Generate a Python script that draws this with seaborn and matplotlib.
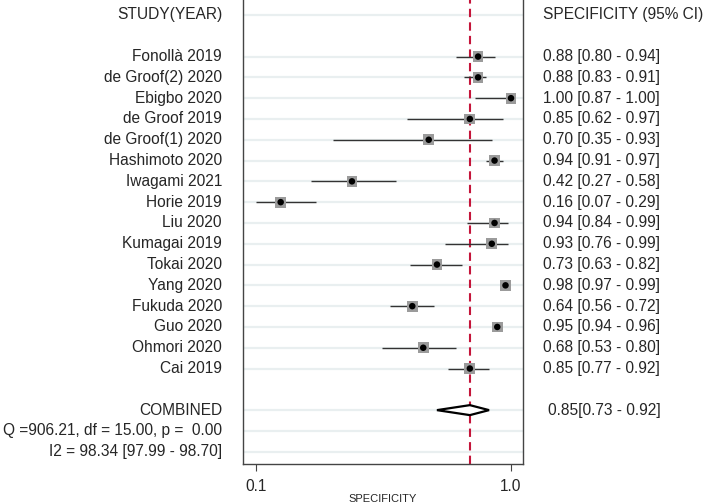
import matplotlib
matplotlib.use("Agg")
import matplotlib.pyplot as plt
import matplotlib.transforms as mtransforms
import seaborn as sns
import pandas as pd

studies = ["Fonollà 2019", "de Groof(2) 2020", "Ebigbo 2020", "de Groof 2019",
           "de Groof(1) 2020", "Hashimoto 2020", "Iwagami 2021", "Horie 2019",
           "Liu 2020", "Kumagai 2019", "Tokai 2020", "Yang 2020",
           "Fukuda 2020", "Guo 2020", "Ohmori 2020", "Cai 2019"]
spec = [0.88, 0.88, 1.00, 0.85, 0.70, 0.94, 0.42, 0.16,
        0.94, 0.93, 0.73, 0.98, 0.64, 0.95, 0.68, 0.85]
lo = [0.80, 0.83, 0.87, 0.62, 0.35, 0.91, 0.27, 0.07,
      0.84, 0.76, 0.63, 0.97, 0.56, 0.94, 0.53, 0.77]
hi = [0.94, 0.91, 1.00, 0.97, 0.93, 0.97, 0.58, 0.29,
      0.99, 0.99, 0.82, 0.99, 0.72, 0.96, 0.80, 0.92]
comb_est, comb_lo, comb_hi = 0.85, 0.73, 0.92
q_stat, q_df, q_p = 906.21, 15.00, 0.00
i2, i2_lo, i2_hi = 98.34, 97.99, 98.70

rows = list(range(2, 2 + len(studies)))
comb_row = rows[-1] + 2
df = pd.DataFrame({"study": studies, "spec": spec, "lo": lo, "hi": hi, "row": rows})

sns.set_style("white")
plt.rcParams["font.family"] = ["Liberation Sans", "DejaVu Sans"]
fs = 11.2

fig = plt.figure(figsize=(7.09, 5.04), dpi=100)
ax = fig.add_axes([243 / 709, 1 - 464 / 504, 280 / 709, 464 / 504])

# row grid
grid_rows = [0] + rows + [comb_row, comb_row + 1, comb_row + 2]
for r in grid_rows:
    ax.axhline(r, color="#e9eff0", lw=1.6, zorder=0)

ax.axvline(comb_est, color="#c4153a", lw=1.5, ls=(0, (4, 2.5)), zorder=1)
ax.hlines(df["row"], df["lo"], df["hi"], color="#333333", lw=1.0, zorder=2)
sns.scatterplot(data=df, x="spec", y="row", marker="s", s=60, color="#9b9b9b",
                edgecolor="none", zorder=3, ax=ax)
sns.scatterplot(data=df, x="spec", y="row", marker="o", s=22, color="black",
                edgecolor="none", zorder=4, ax=ax)

# pooled diamond
h = 0.24
ax.fill([comb_lo, comb_est, comb_hi, comb_est, comb_lo],
        [comb_row, comb_row - h, comb_row, comb_row + h, comb_row],
        facecolor="white", edgecolor="black", lw=1.6, zorder=3)

ax.set_xlim(0.0226, 1.0438)
ax.set_ylim(comb_row + 2.59, -0.72)
xt = [min(lo), max(hi)]
ax.set_xticks(xt)
ax.set_xticklabels([f"{v:.1f}" for v in xt], fontsize=fs)
ax.tick_params(axis="x", direction="out", length=5, width=0.8, color="#444444", pad=6, bottom=True)
ax.set_yticks([])
ax.set_ylabel("")
ax.set_xlabel("SPECIFICITY", fontsize=8, labelpad=0)
for s in ["left", "right", "bottom"]:
    ax.spines[s].set_color("#444444")
    ax.spines[s].set_linewidth(1.0)
ax.spines["top"].set_visible(False)

tr = mtransforms.blended_transform_factory(fig.transFigure, ax.transData)
xl = 222 / 709
xr = 543 / 709
ax.text(xl, 0, "STUDY(YEAR)", transform=tr, ha="right", va="center", fontsize=fs)
ax.text(xr, 0, "SPECIFICITY (95% CI)", transform=tr, ha="left", va="center", fontsize=fs)
for _, d in df.iterrows():
    ax.text(xl, d["row"], d["study"], transform=tr, ha="right", va="center", fontsize=fs)
    ax.text(xr, d["row"], f"{d['spec']:.2f} [{d['lo']:.2f} - {d['hi']:.2f}]",
            transform=tr, ha="left", va="center", fontsize=fs)
ax.text(xl, comb_row, "COMBINED", transform=tr, ha="right", va="center", fontsize=fs)
ax.text(548 / 709, comb_row, f"{comb_est:.2f}[{comb_lo:.2f} - {comb_hi:.2f}]",
        transform=tr, ha="left", va="center", fontsize=fs)
ax.text(xl, comb_row + 1, f"Q ={q_stat:.2f}, df = {q_df:.2f}, p =  {q_p:.2f}",
        transform=tr, ha="right", va="center", fontsize=fs)
ax.text(xl, comb_row + 2, f"I2 = {i2:.2f} [{i2_lo:.2f} - {i2_hi:.2f}]",
        transform=tr, ha="right", va="center", fontsize=fs)

fig.savefig("out.png", dpi=100)
